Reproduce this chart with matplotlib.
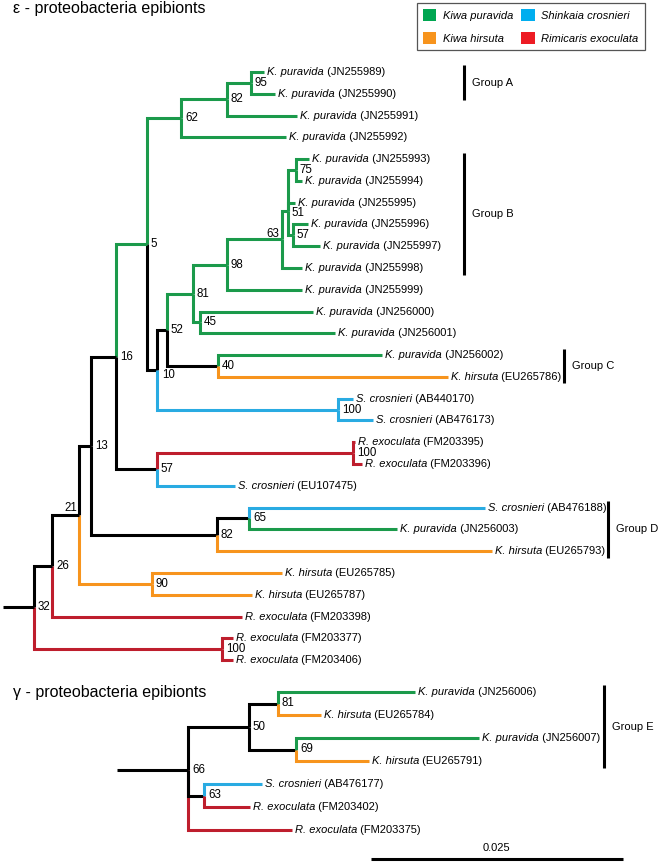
import re
import matplotlib
matplotlib.use("Agg")
import matplotlib.pyplot as plt
from matplotlib.patches import Patch

plt.rcParams["font.family"] = ["Liberation Sans", "DejaVu Sans"]

# species: code, short name on tips, legend name
species_codes = ["KP", "KH", "SC", "RE"]
species_short = ["K. puravida", "K. hirsuta", "S. crosnieri", "R. exoculata"]
species_long = ["Kiwa puravida", "Kiwa hirsuta", "Shinkaia crosnieri", "Rimicaris exoculata"]

# trees in newick, node labels are bootstrap values, lengths in substitutions/site
epsilon_newick = """
(((((((((KP_JN255989:0.00129,KP_JN255990:0.00238)95:0.00238,KP_JN255991:0.00696)82:0.00457,
KP_JN255992:0.01043)62:0.00338,
((((((((KP_JN255993:0.00129,KP_JN255994:0.0006)75:0.00079,KP_JN255995:0.0007):0,
(KP_JN255996:0.00149,KP_JN255997:0.00268)57:0.0005)51:0.0006,KP_JN255998:0.00199)63:0.00547,
KP_JN255999:0.00745)98:0.00338,(KP_JN256000:0.01123,KP_JN256001:0.01341)45:0.0007)81:0.00258,
(KP_JN256002:0.0163,KH_EU265786:0.02285)40:0.00507)52:0.00099,
(SC_AB440170:0.00149,SC_AB476173:0.00348)100:0.01799)10:0.00099)5:0.00308,
((RE_FM203395:0.0002,RE_FM203396:0.00089)100:0.01948,SC_EU107475:0.00775)57:0.00407)16:0.00248,
((SC_AB476188:0.02345,KP_JN256003:0.01471)65:0.00318,KH_EU265793:0.02733)82:0.01252)13:0.00119,
(KH_EU265785:0.01292,KH_EU265787:0.00994)90:0.00725)21:0.00268,
RE_FM203398:0.01888)26:0.00179,
(RE_FM203377:0.00109,RE_FM203406:0.00109)100:0.01868)32:0.00308;
"""

gamma_newick = """
(((KP_JN256006:0.01361,KH_EU265784:0.00427)81:0.00288,
(KP_JN256007:0.01818,KH_EU265791:0.00725)69:0.00467)50:0.00606,
((SC_AB476177:0.00576,RE_FM203402:0.00457)63:0.00159,RE_FM203375:0.01033):0)66:0.00705;
"""

# branch coloured by hand in the original figure
epsilon_overrides = {"5": "KP"}

groups_eps = [("Group A", "JN255989", "JN255990"),
              ("Group B", "JN255993", "JN255998"),
              ("Group C", "JN256002", "EU265786"),
              ("Group D", "AB476188", "EU265793")]
groups_gam = [("Group E", "JN256006", "EU265791")]

scale_value = 0.025

# ---- styling / layout ----
W, H, DPI = 661, 864, 100
PX_PER_UNIT = 251.6 / 0.025
line_colours = {"KP": "#1b9a4b", "KH": "#f7941d", "SC": "#29abe2", "RE": "#be1e2d"}
legend_colours = ["#00a651", "#f7941d", "#00aeef", "#ed1c24"]
LW = 2.2
FS = 8


def parse_newick(text):
    s = "".join(text.split()).rstrip(";")
    pos = 0

    def node():
        nonlocal pos
        kids = []
        if s[pos] == "(":
            pos += 1
            kids.append(node())
            while s[pos] == ",":
                pos += 1
                kids.append(node())
            pos += 1
        name = re.match(r"[^:,()]*", s[pos:]).group(0)
        pos += len(name)
        length = 0.0
        if pos < len(s) and s[pos] == ":":
            m = re.match(r":([0-9.eE-]+)", s[pos:])
            length = float(m.group(1))
            pos += len(m.group(0))
        return {"name": name, "len": length, "kids": kids}

    return node()


def layout(root):
    leaves = []

    def walk(n, x0, parent):
        n["x"] = x0 + n["len"]
        n["parent"] = parent
        if not n["kids"]:
            n["y"] = len(leaves)
            leaves.append(n)
            n["sp"] = {n["name"].split("_")[0]}
        else:
            for k in n["kids"]:
                walk(k, n["x"], n)
            n["y"] = (n["kids"][0]["y"] + n["kids"][-1]["y"]) / 2
            n["sp"] = set().union(*[k["sp"] for k in n["kids"]])

    walk(root, 0.0, None)
    return leaves


def collapsed(n):
    return n["parent"] is not None and n["kids"] and n["len"] == 0 and n["name"] == ""


def draw_tree(ax, root, overrides, label_moves):
    nodes = []

    def collect(n):
        nodes.append(n)
        for k in n["kids"]:
            collect(k)
    collect(root)

    segs = []
    for n in nodes:
        if n is root or collapsed(n):
            continue
        p = n["parent"]
        while collapsed(p):
            p = p["parent"]
        if n["name"] in overrides:
            col = line_colours[overrides[n["name"]]]
        elif len(n["sp"]) == 1:
            col = line_colours[next(iter(n["sp"]))]
        else:
            col = "black"
        segs.append((abs(n["y"] - p["y"]), p, n, col))
    segs.sort(key=lambda t: -t[0])
    for _, p, n, col in segs:
        ax.plot([p["x"], p["x"], n["x"]], [p["y"], n["y"], n["y"]], color=col, lw=LW,
                solid_joinstyle="miter", solid_capstyle="butt")
    ax.plot([0, root["x"]], [root["y"], root["y"]], color="black", lw=LW, solid_capstyle="butt")

    for n in nodes:
        if not n["kids"]:
            code, acc = n["name"].split("_")
            t = ax.annotate(species_short[species_codes.index(code)], xy=(n["x"], n["y"]),
                            xytext=(3, 0), textcoords="offset pixels", style="italic",
                            fontsize=FS, va="center", ha="left")
            ax.annotate(" (" + acc + ")", xy=(1, 0.5), xycoords=t, fontsize=FS,
                        va="center", ha="left")
        elif n["name"]:
            # (dx, dy up, ha) in pixels
            dx, dy, ha = label_moves.get(n["name"], (4, 0, "left"))
            ax.annotate(n["name"], xy=(n["x"], n["y"]), xytext=(dx, dy),
                        textcoords="offset pixels", fontsize=8.3, va="center", ha=ha)


def tree_axes(fig, root_px, first_px, step_px):
    ax = fig.add_axes([0, 0, 1, 1])
    ax.set_xlim(-root_px / PX_PER_UNIT, (W - root_px) / PX_PER_UNIT)
    ax.set_ylim((H - first_px) / step_px, -first_px / step_px)
    ax.axis("off")
    ax.patch.set_alpha(0)
    return ax


def draw_groups(ax, leaves, groups, bar_px, root_px):
    pos = {l["name"].split("_")[1]: l["y"] for l in leaves}
    for name, a, b in groups:
        x = (bar_px[name] - root_px) / PX_PER_UNIT
        y0, y1 = pos[a] - 0.3, pos[b] + 0.3
        ax.plot([x, x], [y0, y1], color="black", lw=LW, solid_capstyle="butt")
        ax.annotate(name, xy=(x, (y0 + y1) / 2), xytext=(8, 0), textcoords="offset pixels",
                    fontsize=FS, va="center", ha="left")


fig = plt.figure(figsize=(W / DPI, H / DPI), dpi=DPI)

eps = parse_newick(epsilon_newick)
eps_leaves = layout(eps)
ax1 = tree_axes(fig, 3, 72, 21.78)
draw_tree(ax1, eps, epsilon_overrides,
          {"63": (-3, 5, "right"), "21": (-2, 7, "right"), "10": (5, -5, "left"),
           "51": (4, -2, "left")})
draw_groups(ax1, eps_leaves, groups_eps,
            {"Group A": 464, "Group B": 464, "Group C": 564, "Group D": 608}, 3)

gam = parse_newick(gamma_newick)
gam_leaves = layout(gam)
ax2 = tree_axes(fig, 117, 692, 23)
draw_tree(ax2, gam, {}, {})
draw_groups(ax2, gam_leaves, groups_gam, {"Group E": 604}, 117)

# scale bar
sx = (371 - 117) / PX_PER_UNIT
sy = (859 - 692) / 23
ax2.plot([sx, sx + scale_value], [sy, sy], color="black", lw=LW, solid_capstyle="butt")
ax2.annotate(str(scale_value), xy=(sx + scale_value / 2, sy), xytext=(0, 11),
             textcoords="offset pixels", fontsize=FS, ha="center", va="center")

fig.text(13 / W, 1 - 9 / H, "\u03b5 - proteobacteria epibionts", fontsize=11.5, va="center")
fig.text(13 / W, 1 - 692 / H, "\u03b3 - proteobacteria epibionts", fontsize=11.5, va="center")

handles = [Patch(facecolor=c, edgecolor="none") for c in legend_colours]
leg = fig.legend(handles, species_long, ncol=2, loc="upper left",
                 bbox_to_anchor=(417 / W, 1 - 3 / H), bbox_transform=fig.transFigure,
                 borderaxespad=0, fancybox=False, edgecolor="#555555", framealpha=1,
                 prop={"style": "italic", "size": FS}, handlelength=1.2, handleheight=1.2,
                 handletextpad=0.6, columnspacing=0.7, labelspacing=1.05, borderpad=0.55)
leg.get_frame().set_linewidth(0.9)

fig.savefig("out.png", dpi=DPI)
